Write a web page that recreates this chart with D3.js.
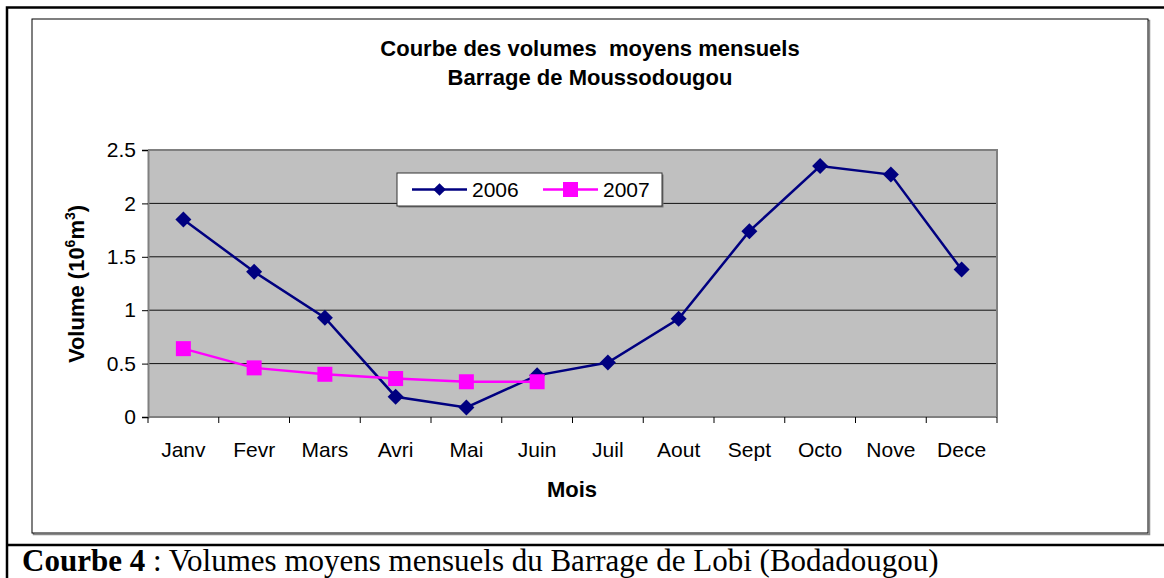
<!DOCTYPE html>
<html>
<head>
<meta charset="utf-8">
<script src="https://cdn.jsdelivr.net/npm/d3@7.9.0/dist/d3.min.js"></script>
<style>
  body { margin: 0; background: #fff; }
  svg { display: block; font-family: Arial, "Liberation Sans", sans-serif; }
</style>
</head>
<body>
<svg id="chart" width="1164" height="578"></svg>
<script>
const months = ["Janv", "Fevr", "Mars", "Avri", "Mai", "Juin", "Juil", "Aout", "Sept", "Octo", "Nove", "Dece"];
const vol2006 = [1.85, 1.36, 0.93, 0.19, 0.09, 0.39, 0.51, 0.92, 1.74, 2.35, 2.27, 1.38];
const vol2007 = [0.64, 0.46, 0.40, 0.36, 0.33, 0.33];
const yTicks = [0, 0.5, 1, 1.5, 2, 2.5];

const svg = d3.select("#chart");

// page frame (table cell look)
svg.append("path")
  .attr("d", "M7,578V7.5H1164M7,545H1164")
  .attr("fill", "none").attr("stroke", "#000").attr("stroke-width", 2.5);

// chart box with a light shadow
svg.append("rect").attr("x", 33.5).attr("y", 20.5).attr("width", 1116).attr("height", 514)
  .attr("fill", "none").attr("stroke", "#888").attr("stroke-width", 1.5);
svg.append("rect").attr("x", 32).attr("y", 19).attr("width", 1116).attr("height", 514)
  .attr("fill", "#fff").attr("stroke", "#000").attr("stroke-width", 1);

const margin = { left: 148, top: 150, right: 997, bottom: 417 };

const x = d3.scaleBand().domain(months).range([margin.left, margin.right]);
const y = d3.scaleLinear().domain([0, 2.5]).range([margin.bottom, margin.top]);

// plot area
svg.append("rect")
  .attr("x", margin.left).attr("y", margin.top)
  .attr("width", margin.right - margin.left).attr("height", margin.bottom - margin.top)
  .attr("fill", "#c0c0c0");

// gridlines
svg.append("g").selectAll("line")
  .data(yTicks.filter(d => d > 0 && d < 2.5))
  .join("line")
  .attr("x1", margin.left).attr("x2", margin.right)
  .attr("y1", d => y(d)).attr("y2", d => y(d))
  .attr("stroke", "#111").attr("stroke-width", 1);

// plot border top/right
svg.append("path")
  .attr("d", `M${margin.left},${margin.top}H${margin.right}V${margin.bottom}`)
  .attr("fill", "none").attr("stroke", "#808080").attr("stroke-width", 2);

// y axis
const yAxis = svg.append("g")
  .attr("transform", `translate(${margin.left},0)`)
  .call(d3.axisLeft(y).tickValues(yTicks).tickSize(6).tickPadding(6).tickFormat(d => d));
yAxis.select(".domain").attr("stroke", "#808080").attr("stroke-width", 2);
yAxis.selectAll(".tick line").attr("stroke", "#000");
yAxis.selectAll("text").attr("font-size", 21).attr("fill", "#000")
  .attr("font-family", "Arial, 'Liberation Sans', sans-serif");

// x axis: ticks between categories
const xAxis = svg.append("g").attr("transform", `translate(0,${margin.bottom})`);
xAxis.append("line").attr("x1", margin.left).attr("x2", margin.right)
  .attr("stroke", "#808080").attr("stroke-width", 2);
const edges = months.map(m => x(m)).concat([margin.right]);
xAxis.selectAll(".xt").data(edges).join("line").attr("class", "xt")
  .attr("x1", d => d).attr("x2", d => d).attr("y1", 0).attr("y2", 6)
  .attr("stroke", "#000");
xAxis.selectAll(".xl").data(months).join("text").attr("class", "xl")
  .attr("x", d => x(d) + x.bandwidth() / 2).attr("y", 40)
  .attr("text-anchor", "middle").attr("font-size", 21).text(d => d);

// lines
const line = d3.line().x((d, i) => x(months[i]) + x.bandwidth() / 2).y(d => y(d));

svg.append("path").datum(vol2006).attr("d", line)
  .attr("fill", "none").attr("stroke", "#000080").attr("stroke-width", 2.5);
svg.append("path").datum(vol2007).attr("d", line)
  .attr("fill", "none").attr("stroke", "#ff00ff").attr("stroke-width", 2.5);

const diamond = d3.symbol().type(d3.symbolSquare).size(128)();
svg.append("g").selectAll("path").data(vol2006).join("path")
  .attr("d", diamond)
  .attr("transform", (d, i) => `translate(${x(months[i]) + x.bandwidth() / 2},${y(d)}) rotate(45)`)
  .attr("fill", "#000080");

svg.append("g").selectAll("rect").data(vol2007).join("rect")
  .attr("x", (d, i) => x(months[i]) + x.bandwidth() / 2 - 7.5)
  .attr("y", d => y(d) - 7.5)
  .attr("width", 15).attr("height", 15)
  .attr("fill", "#ff00ff");

// legend
const lg = svg.append("g").attr("transform", "translate(397,173)");
lg.append("rect").attr("x", 1.5).attr("y", 1.5).attr("width", 265).attr("height", 33)
  .attr("fill", "#777");
lg.append("rect").attr("width", 265).attr("height", 33)
  .attr("fill", "#fff").attr("stroke", "#333").attr("stroke-width", 1);
lg.append("line").attr("x1", 15).attr("x2", 70).attr("y1", 16.5).attr("y2", 16.5)
  .attr("stroke", "#000080").attr("stroke-width", 2.5);
lg.append("path").attr("d", d3.symbol().type(d3.symbolSquare).size(80)())
  .attr("transform", "translate(42.5,16.5) rotate(45)")
  .attr("fill", "#000080");
lg.append("text").attr("x", 75).attr("y", 24).attr("font-size", 21).text("2006");
lg.append("line").attr("x1", 146).attr("x2", 201).attr("y1", 16.5).attr("y2", 16.5)
  .attr("stroke", "#ff00ff").attr("stroke-width", 2.5);
lg.append("rect").attr("x", 166).attr("y", 9).attr("width", 15).attr("height", 15)
  .attr("fill", "#ff00ff");
lg.append("text").attr("x", 206).attr("y", 24).attr("font-size", 21).text("2007");

// titles
svg.append("text").attr("x", 590).attr("y", 56).attr("text-anchor", "middle")
  .attr("font-size", 22).attr("font-weight", "bold").attr("xml:space", "preserve")
  .text("Courbe des volumes  moyens mensuels");
svg.append("text").attr("x", 590).attr("y", 85).attr("text-anchor", "middle")
  .attr("font-size", 22).attr("font-weight", "bold")
  .text("Barrage de Moussodougou");

svg.append("text").attr("x", 572).attr("y", 497).attr("text-anchor", "middle")
  .attr("font-size", 22).attr("font-weight", "bold").text("Mois");

const yt = svg.append("text")
  .attr("transform", "translate(84,284) rotate(-90)")
  .attr("text-anchor", "middle").attr("font-size", 22).attr("font-weight", "bold");
yt.append("tspan").text("Volume (10");
yt.append("tspan").attr("font-size", 14).attr("dy", -9).text("6");
yt.append("tspan").attr("dy", 9).text("m");
yt.append("tspan").attr("font-size", 14).attr("dy", -9).text("3");
yt.append("tspan").attr("dy", 9).text(")");

// caption
const cap = svg.append("text").attr("x", 22).attr("y", 571)
  .attr("font-family", "'Liberation Serif', 'Times New Roman', serif").attr("font-size", 31);
cap.append("tspan").attr("font-weight", "bold").text("Courbe 4");
cap.append("tspan").text(" : Volumes moyens mensuels du Barrage de Lobi (Bodadougou)");
</script>
</body>
</html>
